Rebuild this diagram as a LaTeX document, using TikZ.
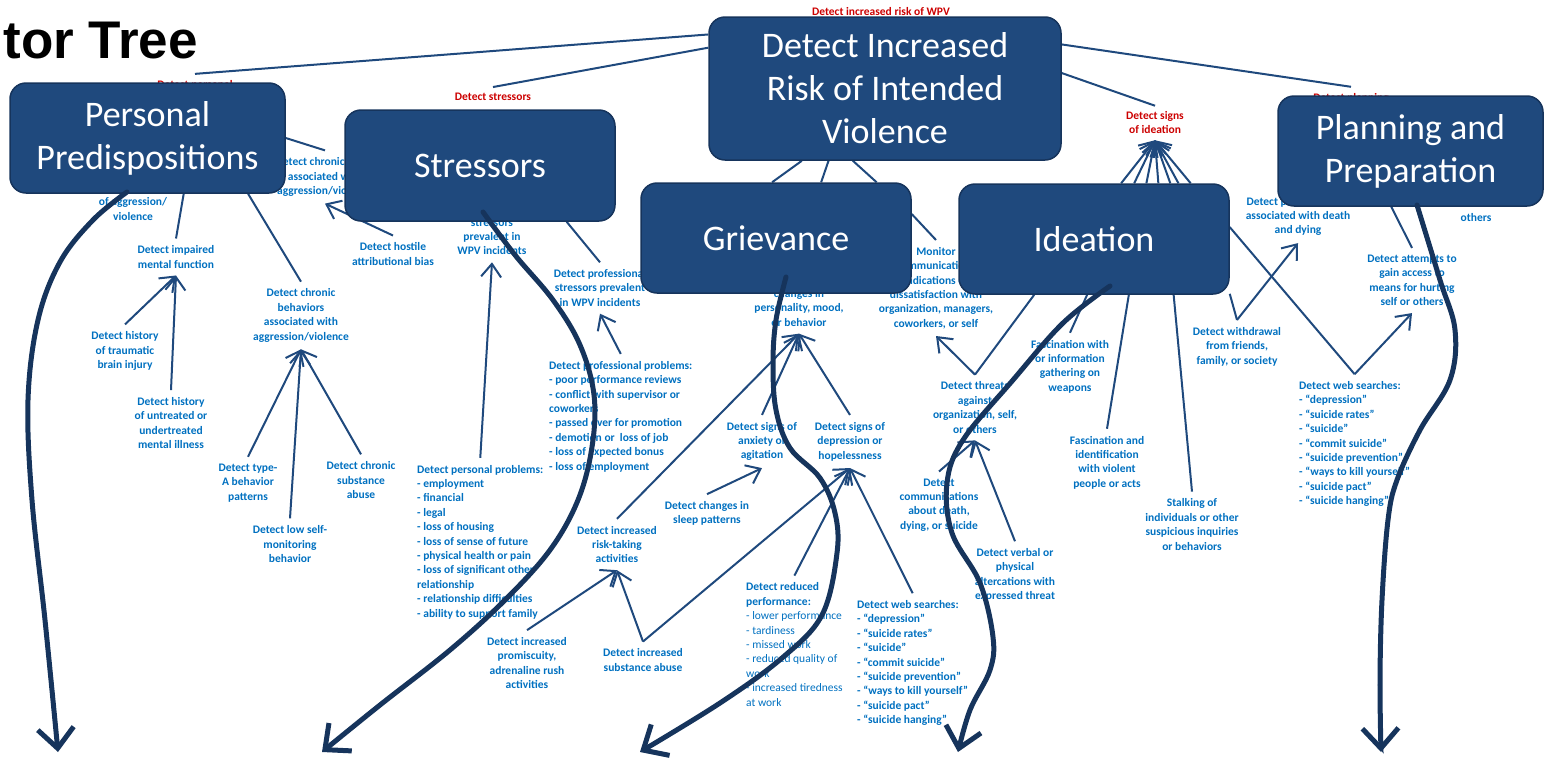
\documentclass[tikz,border=0pt]{standalone}
\usepackage{fontspec}
\setmainfont{Carlito}
\newfontfamily\titlefont{Liberation Sans}
\usetikzlibrary{arrows.meta,calc,backgrounds}

\definecolor{boxblue}{RGB}{31,73,125}
\definecolor{boxedge}{RGB}{22,52,92}
\definecolor{linkblue}{RGB}{31,73,125}
\definecolor{flowblue}{RGB}{22,52,92}
\definecolor{txtblue}{RGB}{0,112,192}
\definecolor{txtred}{RGB}{204,0,0}

\tikzset{
  catbox/.style={draw=boxedge, line width=1.5pt, fill=boxblue, rounded corners=16pt, text=white,
    font=\fontsize{36}{43}\selectfont, align=center, inner sep=0pt, minimum height=110pt},
  det/.style={text=txtblue, font=\fontsize{11.5}{14.4}\selectfont\bfseries, align=center, inner xsep=0pt, inner ysep=7pt},
  detlist/.style={det, align=left, anchor=west},
  redlbl/.style={text=txtred, font=\fontsize{11.5}{14}\selectfont\bfseries, align=center, inner xsep=0pt, inner ysep=6pt},
  link/.style={draw=linkblue, line width=2pt},
  arr/.style={link, -{Straight Barb[length=13pt,width=20pt]}},
  flow/.style={draw=flowblue, line width=5pt, line cap=round, -{Straight Barb[length=20pt,width=36pt]}},
}

\begin{document}
\begin{tikzpicture}[x=1pt,y=-1pt]
\useasboundingbox (0,0) rectangle (1545,758);

\node[font=\titlefont\fontsize{53}{58}\selectfont\bfseries, anchor=base east, inner sep=0pt] (title) at (198,58) {tor Tree};

% red labels
\node[redlbl] (redtop) at (881,12) {Detect increased risk of WPV};
\node[redlbl] (redpers) at (195,85) {Detect personal};
\node[redlbl] (redstress) at (493,97) {Detect stressors};
\node[redlbl] (redide) at (1155,123) {Detect signs\\of ideation};
\node[redlbl] (redplan) at (1351,98) {Detect planning};

% personal predispositions
\node[det] (aggr) at (133,209) {of aggression/\\violence};
\node[det] (anger) at (325,177) {Detect chronic anger\\associated with\\aggression/violence};
\node[det] (impair) at (176,257) {Detect impaired\\mental function};
\node[det] (brain) at (125,351) {Detect history\\of traumatic\\brain injury};
\node[det] (illness) at (171,423) {Detect history\\of untreated or\\undertreated\\mental illness};
\node[det] (chronbeh) at (301,315.5) {Detect chronic\\behaviors\\associated with\\aggression/violence};
\node[det] (typea) at (248,483) {Detect type-\\A behavior\\patterns};
\node[det] (selfmon) at (290,544) {Detect low self-\\monitoring\\behavior};
\node[det] (chronsub) at (361,480) {Detect chronic\\substance\\abuse};
\node[det] (hostile) at (393,254) {Detect hostile\\attributional bias};

% stressors
\node[det] (perstress) at (492,237) {stressors\\prevalent in\\WPV incidents};
\node[det] (profstress) at (600,288) {Detect professional\\stressors prevalent\\in WPV incidents};
\node[detlist] (persprob) at (417,542) {Detect personal problems:\\- employment\\- financial\\- legal\\- loss of housing\\- loss of sense of future\\- physical health or pain\\- loss of significant other\\relationship\\- relationship difficulties\\- ability to support family};
\node[detlist] (profprob) at (549,416.5) {Detect professional problems:\\- poor performance reviews\\- conflict with supervisor or\\coworkers\\- passed over for promotion\\- demotion or~ loss of job\\- loss of expected bonus\\- loss of employment};

% grievance
\node[det] (changes) at (799,308) {changes in\\personality, mood,\\or behavior};
\node[det] (anxiety) at (762,441.5) {Detect signs of\\anxiety or\\agitation};
\node[det] (depress) at (850,441.5) {Detect signs of\\depression or\\hopelessness};
\node[det] (sleep) at (707,513.5) {Detect changes in\\sleep patterns};
\node[det] (risktake) at (617,544.5) {Detect increased\\risk-taking\\activities};
\node[det] (promisc) at (527,663) {Detect increased\\promiscuity,\\adrenaline rush\\activities};
\node[det] (subst) at (643,660) {Detect increased\\substance abuse};
\node[detlist] (reduced) at (746,644.5) {Detect reduced\\performance:\\\mdseries - lower performance\\\mdseries - tardiness\\\mdseries - missed work\\\mdseries - reduced quality of\\\mdseries work\\\mdseries - increased tiredness\\\mdseries at work};
\node[detlist] (websrch) at (857,663) {Detect web searches:\\- “depression”\\- “suicide rates”\\- “suicide”\\- “commit suicide”\\- “suicide prevention”\\- “ways to kill yourself”\\- “suicide pact”\\- “suicide hanging”};
\node[det] (monitor) at (936,288) {Monitor\\communications\\indications of\\dissatisfaction with\\organization, managers,\\coworkers, or self};

% ideation
\node[det] (threats) at (975,407.5) {Detect threats\\against\\organization, self,\\or others};
\node[det] (commdeath) at (939,505) {Detect\\communications\\about death,\\dying, or suicide};
\node[det] (verbal) at (1015,575) {Detect verbal or\\physical\\altercations with\\expressed threat};
\node[det] (fascweap) at (1070,366.5) {Fascination with\\or information\\gathering on\\weapons};
\node[det] (fascviol) at (1107,462.5) {Fascination and\\identification\\with violent\\people or acts};
\node[det] (stalk) at (1192,524.5) {Stalking of\\individuals or other\\suspicious inquiries\\or behaviors};
\node[det] (withdraw) at (1237,346.5) {Detect withdrawal\\from friends,\\family, or society};

% planning and preparation
\node[det] (deathdying) at (1298,216.5) {Detect preoccupation\\associated with death\\and dying};
\node[detlist] (websrch2) at (1299,444) {Detect web searches:\\- “depression”\\- “suicide rates”\\- “suicide”\\- “commit suicide”\\- “suicide prevention”\\- “ways to kill yourself”\\- “suicide pact”\\- “suicide hanging”};
\node[det] (attempts) at (1412,280.5) {Detect attempts to\\gain access to\\means for hurting\\self or others};
\node[det] (others) at (1476,218) {others};

% boxes
\node[catbox, minimum width=275pt] (pers) at (147.5,138) {Personal\\Predispositions};
\node[catbox, minimum width=270pt, minimum height=111pt] (stress) at (480,165.5) {Stressors};
\node[catbox, minimum width=352pt, minimum height=143pt] (risk) at (885,88.5) {Detect Increased\\Risk of Intended\\Violence};
\node[catbox, minimum width=270pt] (griev) at (776,238) {Grievance};
\node[catbox, minimum width=270pt] (ideat) at (1094,239) {Ideation};
\node[catbox, minimum width=265pt] (plan) at (1410.5,151) {Planning and\\Preparation};

\begin{scope}[on background layer]
\draw[link] (risk.163) -- (redpers.north);
\draw[link] (risk.167) -- (redstress.north);
\draw[link] (risk.14) -- (redplan.north);
\draw[link] (risk.5) -- (redide.north);
\draw[link] (risk.-139) -- (griev.94);
\draw[link] (risk.-128) -- (griev.51);
\draw[link] (risk.-114) -- (griev.29);

\draw[link] (pers.-57) -- (impair.north);
\draw[link] (pers.-29) -- (chronbeh.north);
\draw[link] (pers.east) -- (anger.north);
\draw[arr] (brain.north) -- (impair.south);
\draw[arr] (illness.north) -- (impair.south);
\draw[arr] (typea.north) -- (chronbeh.south);
\draw[arr] (selfmon.north) -- (chronbeh.south);
\draw[arr] (chronsub.north) -- (chronbeh.south);
\draw[arr] (hostile.north) -- (anger.south);

\draw[link] (stress.-33) -- (profstress.north);
\draw[arr] (persprob.north) -- (perstress.south);
\draw[arr] (profprob.north) -- (profstress.south);

\draw[link] (griev.10) -- (monitor.north);
\draw[arr] (anxiety.north) -- (changes.south);
\draw[arr] (depress.north) -- (changes.south);
\draw[arr] (risktake.north) -- (changes.south);
\draw[arr] (sleep.north) -- (anxiety.south);
\draw[arr] (promisc.north) -- (risktake.south);
\draw[arr] (subst.north) -- (risktake.south);
\draw[arr] (subst.north) -- (depress.south);
\draw[arr] (reduced.north) -- (depress.south);
\draw[arr] (websrch.north) -- (depress.south);

\draw[link] (ideat.-137) -- (threats.north);
\draw[arr] (threats.north) -- (monitor.south);
\draw[arr] (commdeath.north) -- (threats.south);
\draw[arr] (verbal.north) -- (threats.south);
\draw[link] (ideat.-97) -- (fascweap.north);
\draw[link] (ideat.-58) -- (fascviol.north);
\draw[link] (ideat.-35) -- (stalk.north);
\draw[link] (ideat.-22) -- (withdraw.north);
\draw[arr] (withdraw.north) -- (deathdying.south);
\draw[link] (ideat.5) -- (websrch2.north);
\draw[arr] (websrch2.north) -- (attempts.south);
\draw[link] (plan.-109) -- (attempts.north);
\foreach \f in {0.60,0.648,0.693,0.737,0.781,0.811,0.856}
  \draw[arr] ($(ideat.north west)!\f!(ideat.north east)$) -- (redide.south);
\end{scope}

% flows
\draw[flow] plot[smooth, tension=0.6] coordinates {(127,192) (93,220) (60,262) (38,320) (28,400) (32,500) (45,620) (58,752)};
\draw[flow] plot[smooth, tension=0.6] coordinates {(483,212) (515,255) (553,300) (580,345) (594,395) (592,447) (578,500) (550,550) (505,600) (450,650) (380,705) (322,752)};
\draw[flow] plot[smooth, tension=0.6] coordinates {(786,277) (776,320) (773,363) (776,410) (790,448) (820,478) (835,513) (837,553) (822,615) (782,658) (720,703) (640,752)};
\draw[flow] plot[smooth, tension=0.6] coordinates {(1110,286) (1063,323) (1013,380) (963,440) (947,483) (952,533) (980,583) (993,637) (990,670) (970,710) (958,752)};
\draw[flow] plot[smooth, tension=0.6] coordinates {(1417,205) (1440,280) (1455,330) (1450,380) (1420,430) (1397,480) (1388,520) (1382,600) (1380,680) (1381,752)};
\end{tikzpicture}
\end{document}
